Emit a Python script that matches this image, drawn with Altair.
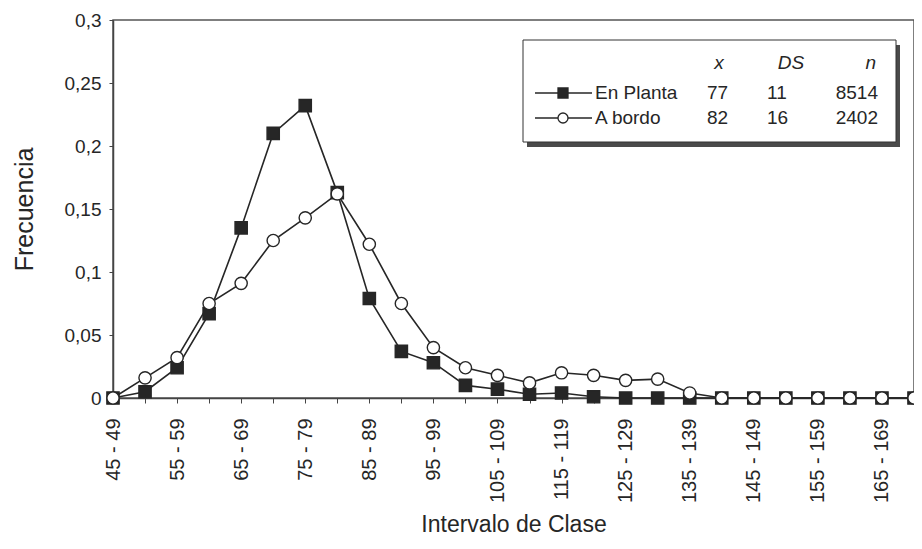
import altair as alt
import pandas as pd

categories = ["45 - 49", "50 - 54", "55 - 59", "60 - 64", "65 - 69", "70 - 74",
              "75 - 79", "80 - 84", "85 - 89", "90 - 94", "95 - 99", "100 - 104",
              "105 - 109", "110 - 114", "115 - 119", "120 - 124", "125 - 129",
              "130 - 134", "135 - 139", "140 - 144", "145 - 149", "150 - 154",
              "155 - 159", "160 - 164", "165 - 169", "170 - 174"]
shown_labels = ["45 - 49", "55 - 59", "65 - 69", "75 - 79", "85 - 89", "95 - 99",
                "105 - 109", "115 - 119", "125 - 129", "135 - 139", "145 - 149",
                "155 - 159", "165 - 169"]
en_planta = [0.0, 0.005, 0.024, 0.067, 0.135, 0.21, 0.232, 0.163, 0.079, 0.037,
             0.028, 0.010, 0.007, 0.003, 0.004, 0.001, 0.0, 0.0, 0.0, 0.0, 0.0,
             0.0, 0.0, 0.0, 0.0, 0.0]
a_bordo = [0.0, 0.016, 0.032, 0.075, 0.091, 0.125, 0.143, 0.162, 0.122, 0.075,
           0.040, 0.024, 0.018, 0.012, 0.020, 0.018, 0.014, 0.015, 0.004, 0.0,
           0.0, 0.0, 0.0, 0.0, 0.0, 0.0]
series_names = ["En Planta", "A bordo"]
stat_headers = ["x", "DS", "n"]
stat_mean = ["77", "82"]
stat_sd = ["11", "16"]
stat_n = ["8514", "2402"]
y_ticks = [0, 0.05, 0.1, 0.15, 0.2, 0.25, 0.3]

FONT = "Liberation Sans"
INK = "#262626"
W, H = 801, 378

rows = []
for i, c in enumerate(categories):
    rows.append({"cat": c, "serie": series_names[0], "v": en_planta[i]})
    rows.append({"cat": c, "serie": series_names[1], "v": a_bordo[i]})
df = pd.DataFrame(rows)

label_list = "[" + ",".join("'%s'" % s for s in shown_labels) + "]"

x_enc = alt.X("cat:N", sort=categories,
              scale=alt.Scale(type="point", padding=0),
              axis=alt.Axis(title="Intervalo de Clase", labelAngle=270,
                            labelExpr="indexof(%s, datum.label) >= 0 ? datum.label : ''" % label_list,
                            labelFont=FONT, labelFontSize=20, labelColor=INK,
                            labelPadding=15, tickSize=5, tickColor="#444",
                            domainColor="#444", domainWidth=1.5,
                            titleFont=FONT, titleFontSize=23, titleFontWeight="normal",
                            titleColor=INK, titleX=W / 2, titleY=133,
                            titleAlign="center", titleBaseline="alphabetic",
                            labelOverlap=False, grid=False))
y_enc = alt.Y("v:Q", scale=alt.Scale(domain=[0, 0.3], nice=False),
              axis=alt.Axis(title="Frecuencia", values=y_ticks,
                            labelExpr="replace(format(datum.value, '.2~f'), '.', ',')",
                            labelFont=FONT, labelFontSize=19, labelColor=INK,
                            labelPadding=8, tickSize=4, tickColor="#444",
                            domainColor="#444", domainWidth=1.5,
                            titleFont=FONT, titleFontSize=25, titleFontWeight="normal",
                            titleColor=INK, titleX=-89, titleY=H / 2, titleAngle=270,
                            titleAlign="center", titleBaseline="middle", grid=False))

base = alt.Chart(df)

def series_layers(name, shape, fill):
    sub = base.transform_filter(alt.datum.serie == name)
    line = sub.mark_line(color=INK, strokeWidth=1.6).encode(x=x_enc, y=y_enc)
    pts = sub.mark_point(shape=shape, size=150, filled=True, fill=fill,
                         stroke=INK, strokeWidth=1.4, opacity=1).encode(x=x_enc, y=y_enc)
    return [line, pts]

layers = series_layers("En Planta", "square", INK) + series_layers("A bordo", "circle", "white")

one = pd.DataFrame({"k": [0]})

# legend box (positions relative to the plot area)
lx0, lx1, ly0, ly1 = 410, 783, 20, 122
shadow = alt.Chart(one).mark_rect(color="#4a4a4a").encode(
    x=alt.value(lx0 + 4), x2=alt.value(lx1 + 4), y=alt.value(ly0 + 5), y2=alt.value(ly1 + 5))
box = alt.Chart(one).mark_rect(fill="white", stroke="#333", strokeWidth=1).encode(
    x=alt.value(lx0), x2=alt.value(lx1), y=alt.value(ly0), y2=alt.value(ly1))
layers += [shadow, box]

row_y = [73, 98]
shapes = ["square", "circle"]
fills = [INK, "white"]
for i in range(2):
    layers.append(alt.Chart(one).mark_rule(color=INK, strokeWidth=1.6).encode(
        x=alt.value(422), x2=alt.value(479), y=alt.value(row_y[i])))
    layers.append(alt.Chart(one).mark_point(shape=shapes[i], size=100, filled=True,
                                            fill=fills[i], stroke=INK, strokeWidth=1.3,
                                            opacity=1).encode(
        x=alt.value(450), y=alt.value(row_y[i])))
    layers.append(alt.Chart(one).mark_text(font=FONT, fontSize=19, color=INK, align="left",
                                           baseline="middle").encode(
        x=alt.value(482), y=alt.value(row_y[i]), text=alt.value(series_names[i])))
    layers.append(alt.Chart(one).mark_text(font=FONT, fontSize=19, color=INK, align="left",
                                           baseline="middle").encode(
        x=alt.value(594), y=alt.value(row_y[i]), text=alt.value(stat_mean[i])))
    layers.append(alt.Chart(one).mark_text(font=FONT, fontSize=19, color=INK, align="left",
                                           baseline="middle").encode(
        x=alt.value(654), y=alt.value(row_y[i]), text=alt.value(stat_sd[i])))
    layers.append(alt.Chart(one).mark_text(font=FONT, fontSize=19, color=INK, align="right",
                                           baseline="middle").encode(
        x=alt.value(765), y=alt.value(row_y[i]), text=alt.value(stat_n[i])))

hdr_x = [606, 678, 763]
hdr_align = ["center", "center", "right"]
for j in range(3):
    layers.append(alt.Chart(one).mark_text(font=FONT, fontSize=19, color=INK, fontStyle="italic",
                                           align=hdr_align[j], baseline="middle").encode(
        x=alt.value(hdr_x[j]), y=alt.value(43), text=alt.value(stat_headers[j])))

chart = alt.layer(*layers).properties(
    width=W, height=H,
    autosize=alt.AutoSizeParams(type="none"),
    padding={"left": 105, "top": 12, "right": 0, "bottom": 141},
    background="white",
).configure_view(stroke="#555", strokeWidth=1.5)

chart.save("out.html", embed_options={"renderer": "svg", "actions": False})
